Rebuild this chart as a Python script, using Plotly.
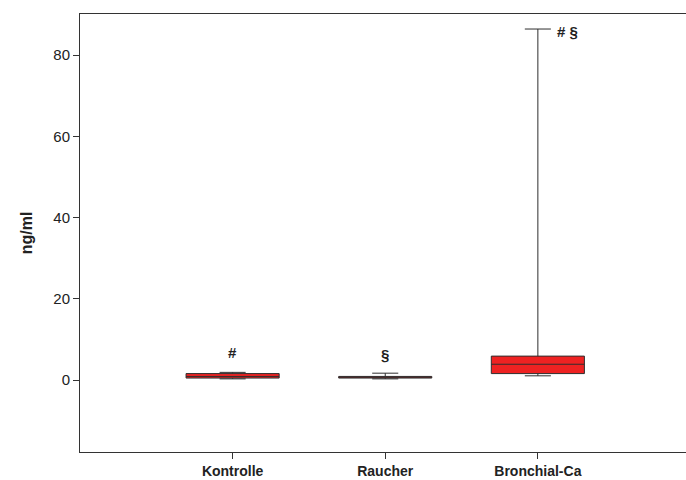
import plotly.graph_objects as go

categories = ["Kontrolle", "Raucher", "Bronchial-Ca"]
lower_whisker = [0.3, 0.3, 1.05]
q1_values = [0.5, 0.5, 1.6]
medians = [0.9, 0.7, 3.9]
q3_values = [1.6, 0.9, 5.9]
upper_whisker = [1.9, 1.7, 86.4]

marks = ["#", "§", "# §"]
mark_y = [6.9, 6.4, 85.8]

FONT = "Liberation Sans, Arial, sans-serif"

fig = go.Figure()
fig.add_trace(go.Box(
    x=categories, q1=q1_values, median=medians, q3=q3_values,
    lowerfence=lower_whisker, upperfence=upper_whisker,
    fillcolor="#ee2222", line=dict(color="#2e2e2e", width=1),
    width=0.61, whiskerwidth=0.28, boxpoints=False, hoverinfo="skip",
    showlegend=False,
))

for i, (cat, txt, yv) in enumerate(zip(categories, marks, mark_y)):
    last = i == len(categories) - 1
    fig.add_annotation(
        x=cat, y=yv, text=f"<b>{txt}</b>", showarrow=False,
        xanchor="left" if last else "center", yanchor="middle",
        xshift=17 if last else 0,
        font=dict(size=15, color="#222", family=FONT),
    )

# plot area runs a few pixels past the right edge of the window, as in the original
fig.update_layout(
    width=692, height=480,
    margin=dict(l=80, r=0, t=14, b=28),
    paper_bgcolor="white", plot_bgcolor="white",
    font=dict(family=FONT, color="#222"),
    xaxis=dict(
        type="category", range=[-1, 3.01], showgrid=False, zeroline=False,
        showline=True, linecolor="#333", linewidth=1, mirror=True,
        ticks="outside", ticklen=6, tickcolor="#333",
        tickfont=dict(size=14, family=FONT, color="#222", weight="bold"),
    ),
    yaxis=dict(
        range=[-17.7, 90.1], tickvals=[0, 20, 40, 60, 80],
        showgrid=False, zeroline=False,
        showline=True, linecolor="#333", linewidth=1,
        ticks="outside", ticklen=6, tickcolor="#333",
        tickfont=dict(size=15, family=FONT, color="#222"),
        title=dict(text="<b>ng/ml</b>", font=dict(size=16, family=FONT), standoff=16),
    ),
)

fig.write_html(
    "out.html",
    config={"displayModeBar": False},
    post_script="document.body.style.margin='0';document.body.style.overflow='hidden';",
)
